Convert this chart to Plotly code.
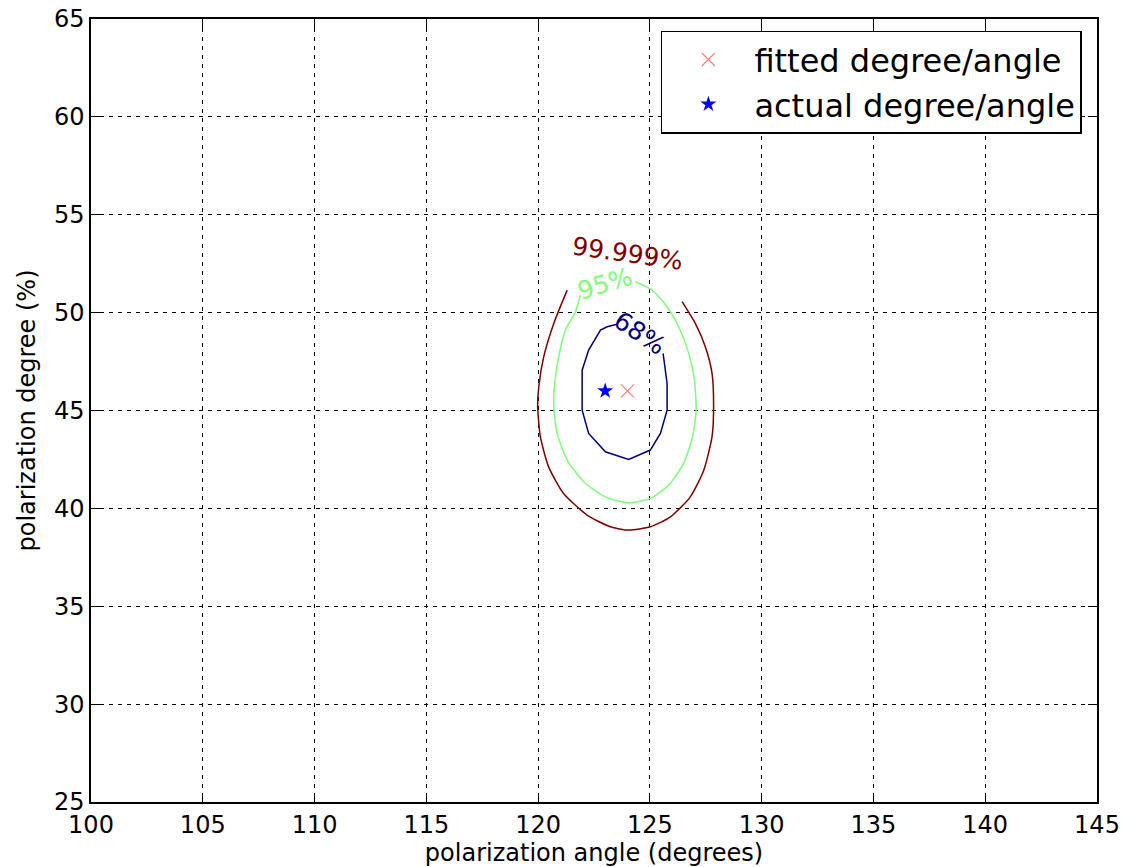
import plotly.graph_objects as go

# ---- data ----
fitted_angle = [124.0]
fitted_degree = [46.0]
actual_angle = [123.0]
actual_degree = [46.0]

# 68% contour (open where the label sits)
angle_68 = [125.59, 125.77, 125.77, 125.47, 125.02, 124.05, 123.01, 122.26,
            121.97, 121.97, 122.26, 122.79, 123.09, 123.53]
degree_68 = [47.92, 46.38, 45.02, 43.83, 42.98, 42.50, 42.89, 43.83,
             45.02, 47.06, 48.09, 49.11, 49.28, 49.41]

# 95% contour
angle_95 = [124.35, 125.10, 125.77, 126.29, 126.74, 126.99, 127.07, 126.91,
            126.51, 125.84, 125.02, 124.05, 123.01, 122.04, 121.30, 120.85,
            120.70, 120.74, 120.92, 121.22, 121.67, 121.89]
degree_95 = [51.58, 51.15, 50.30, 49.28, 47.92, 46.55, 45.02, 43.66,
             42.30, 41.19, 40.51, 40.28, 40.59, 41.36, 42.47, 43.83,
             45.19, 46.38, 47.74, 49.11, 50.04, 50.90]

# 99.999% contour
angle_99 = [126.44, 127.03, 127.48, 127.78, 127.85, 127.78, 127.41, 126.81,
            125.92, 125.02, 124.05, 123.23, 122.19, 121.14, 120.47, 120.10,
            119.98, 120.03, 120.25, 120.70, 121.30]
degree_99 = [50.56, 49.45, 48.26, 46.90, 45.19, 43.66, 41.95, 40.59,
             39.57, 39.06, 38.89, 39.06, 39.66, 40.76, 42.12, 43.66,
             45.19, 46.21, 47.74, 49.45, 51.15]

contour_labels = ["68%", "95%", "99.999%"]
label_angle = [124.57, 123.01, 123.98]
label_degree = [48.94, 51.49, 53.03]
label_rotation = [34, -17, 8]
contour_colors = ["#00007f", "#7dff7a", "#7f0000"]

x_ticks = [100, 105, 110, 115, 120, 125, 130, 135, 140, 145]
y_ticks = [25, 30, 35, 40, 45, 50, 55, 60, 65]

FONT = "DejaVu Sans, Liberation Sans, sans-serif"

fig = go.Figure()

for xs, ys, col, shp in [(angle_68, degree_68, contour_colors[0], "linear"),
                         (angle_95, degree_95, contour_colors[1], "spline"),
                         (angle_99, degree_99, contour_colors[2], "spline")]:
    fig.add_trace(go.Scatter(x=xs, y=ys, mode="lines",
                             line=dict(color=col, width=1.5, shape=shp,
                                       smoothing=0.6),
                             showlegend=False, hoverinfo="skip"))

fig.add_trace(go.Scatter(
    x=fitted_angle, y=fitted_degree, mode="markers",
    name="fitted degree/angle", legendgroup="fit",
    marker=dict(symbol="x-thin", size=13, color="#ff8080",
                line=dict(color="#ff8080", width=1.2)),
))
fig.add_trace(go.Scatter(
    x=actual_angle, y=actual_degree, mode="markers",
    name="actual degree/angle", legendgroup="act",
    marker=dict(symbol="star", size=12, color="#0000ff",
                line=dict(width=0)),
))

for txt, lx, ly, rot, col in zip(contour_labels, label_angle, label_degree,
                                 label_rotation, contour_colors):
    fig.add_annotation(x=lx, y=ly, text=txt, showarrow=False,
                       textangle=rot, font=dict(family=FONT, size=25, color=col))

axis_common = dict(
    showline=True, linecolor="black", linewidth=1.5, mirror="allticks",
    ticks="inside", ticklen=9, tickwidth=1.3, tickcolor="black",
    showgrid=True, gridcolor="black", gridwidth=1.3, griddash="4px,5px",
    zeroline=False, automargin=False,
    tickfont=dict(family=FONT, size=24, color="black"),
)

fig.update_xaxes(range=[100, 145], tickvals=x_ticks,
                 ticktext=[str(v) for v in x_ticks],
                 title=dict(text="polarization angle (degrees)",
                            font=dict(family=FONT, size=24, color="black"),
                            standoff=6),
                 **axis_common)
fig.update_yaxes(range=[25, 65], tickvals=y_ticks,
                 ticktext=[str(v) for v in y_ticks],
                 title=dict(text="polarization degree (%)",
                            font=dict(family=FONT, size=24, color="black"),
                            standoff=12),
                 **axis_common)

fig.update_layout(
    width=1130, height=867,
    margin=dict(l=91, r=33, t=19, b=65),
    paper_bgcolor="white", plot_bgcolor="white",
    showlegend=True,
    legend=dict(x=0.985, y=0.985, xanchor="right", yanchor="top",
                bgcolor="white", bordercolor="black", borderwidth=1.5,
                font=dict(family=FONT, size=32, color="black"),
                itemwidth=82, tracegroupgap=0),
)

fig.write_html("out.html")
